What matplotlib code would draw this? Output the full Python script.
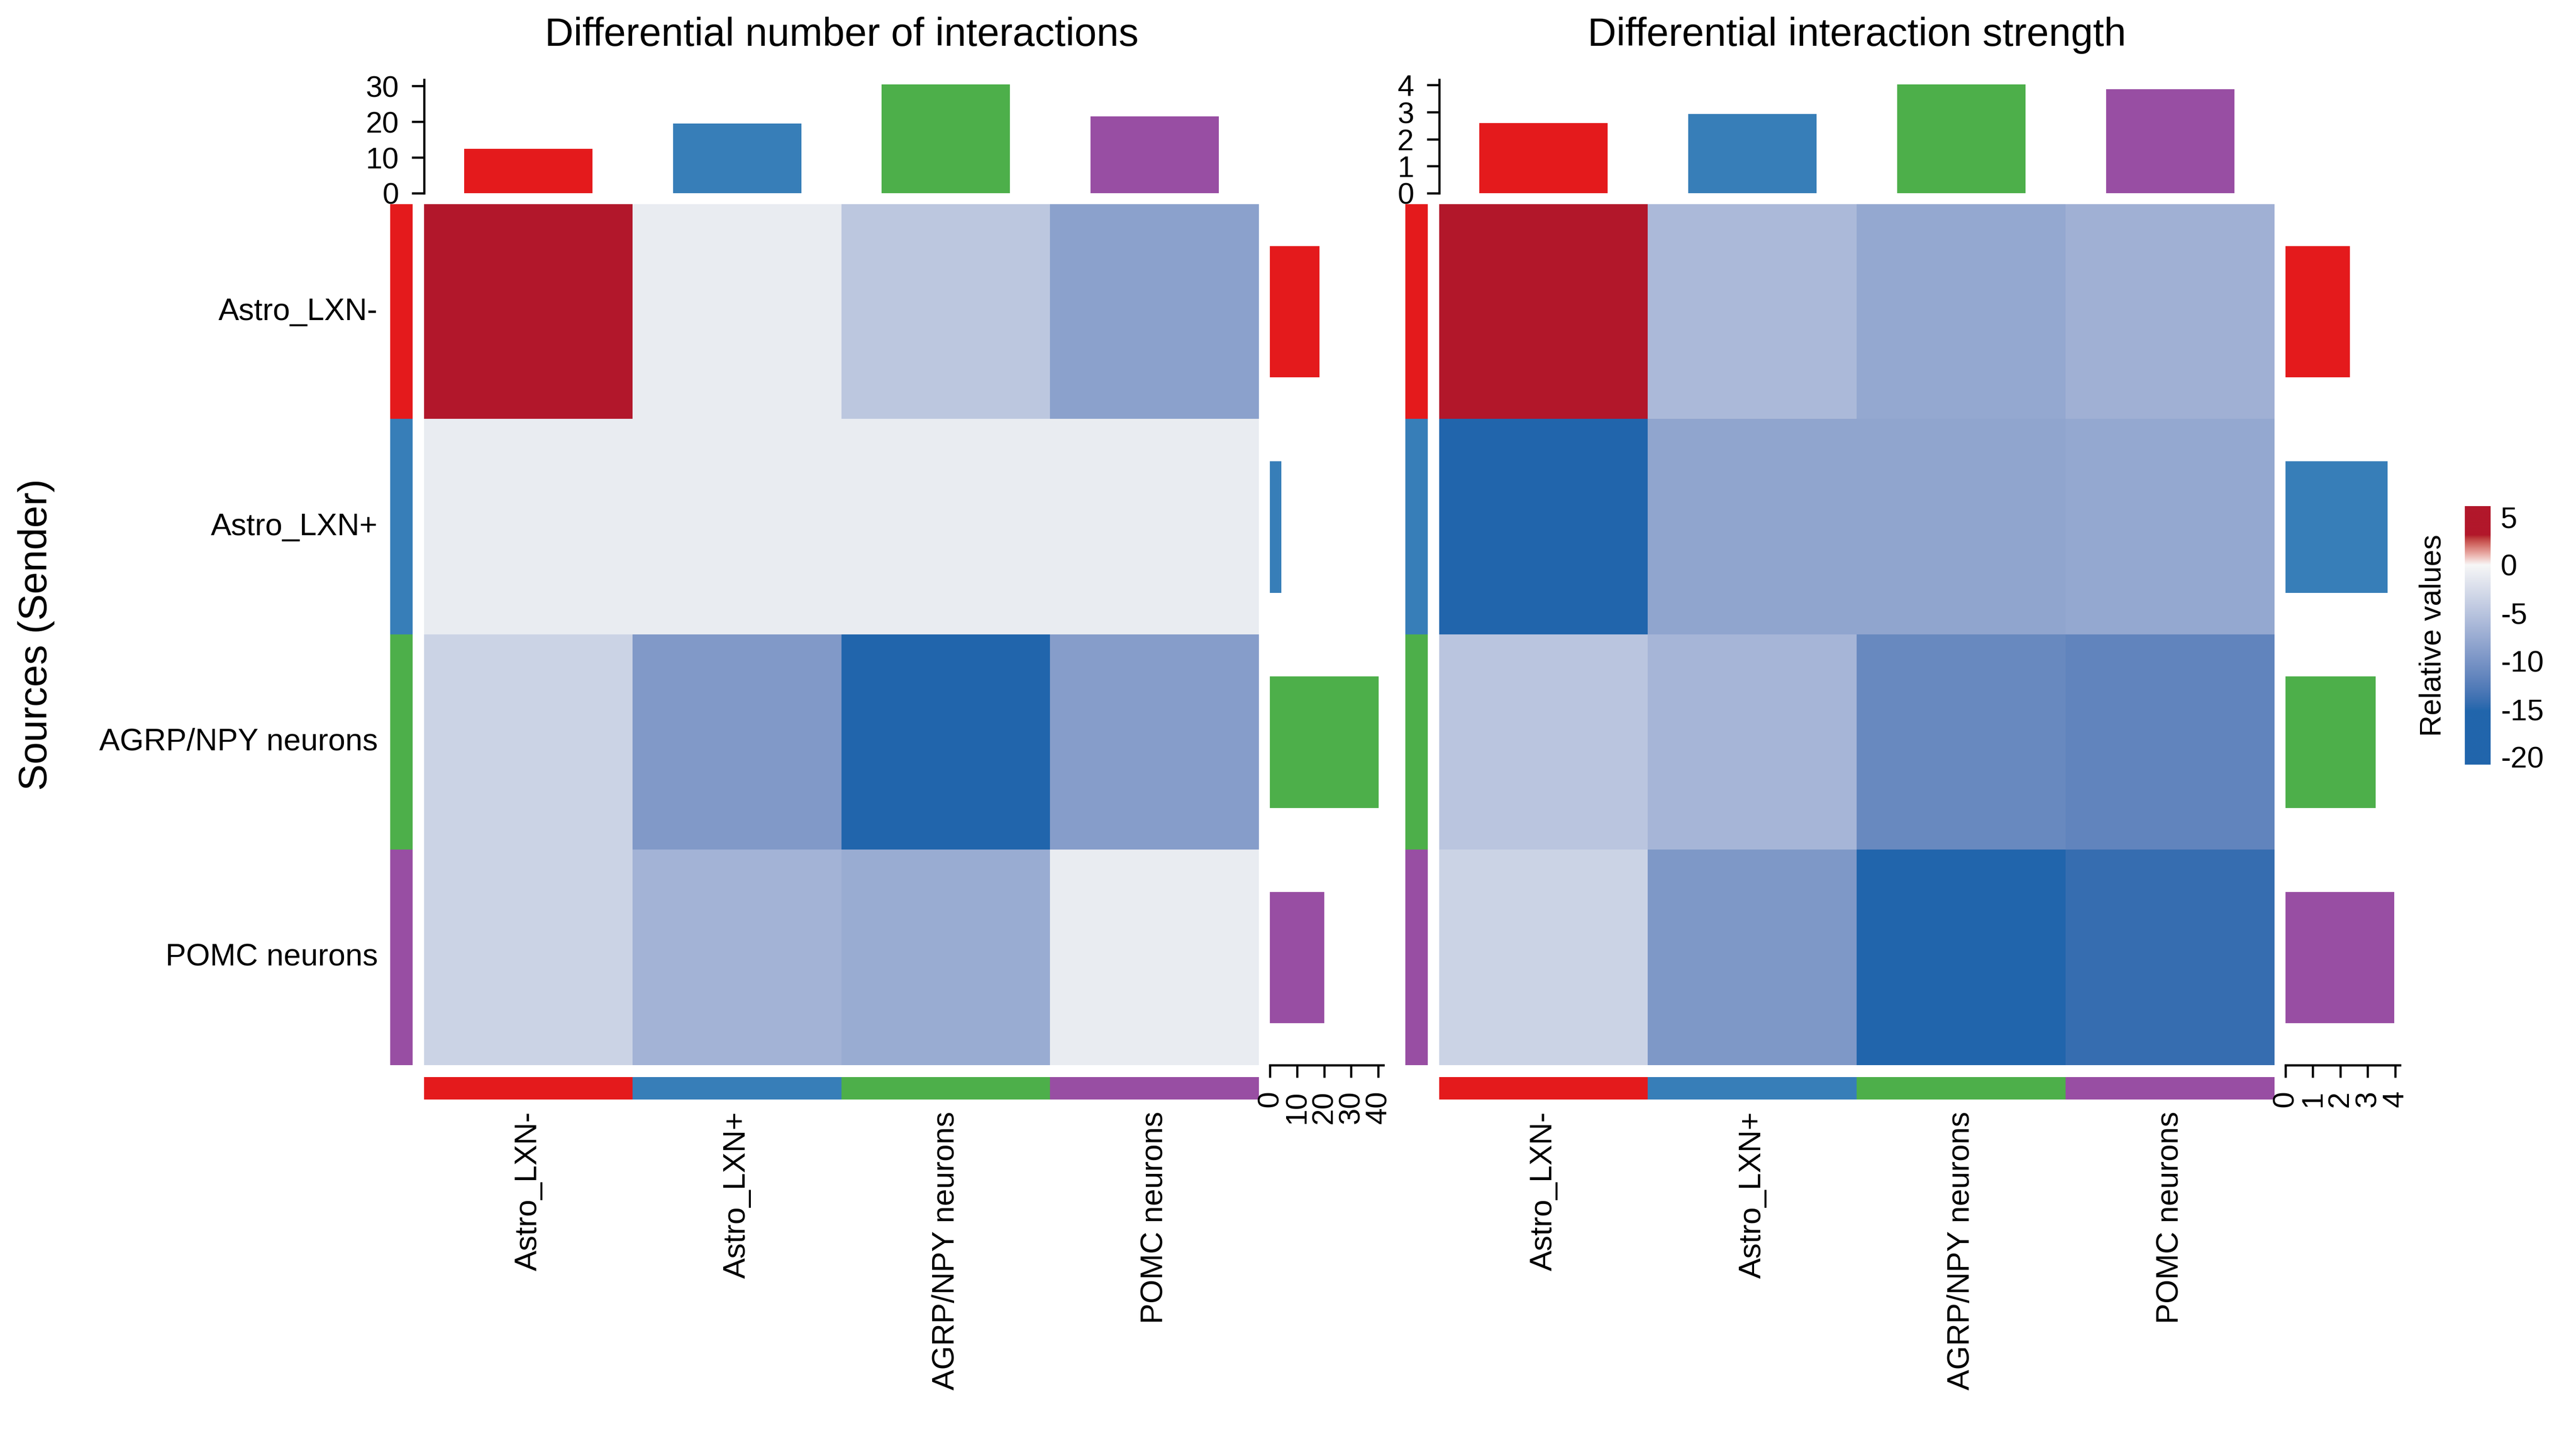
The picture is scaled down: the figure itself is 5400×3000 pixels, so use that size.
import numpy as np
import matplotlib
matplotlib.use("Agg")
import matplotlib.pyplot as plt
from matplotlib.colors import ListedColormap, Normalize, to_rgb

# ---- data ----
groups = ["Astro_LXN-", "Astro_LXN+", "AGRP/NPY neurons", "POMC neurons"]
group_colors = ["#E41A1C", "#377EB8", "#4DAF4A", "#984EA3"]

# rows = sources (sender), cols = targets (receiver)
count_diff = np.array([[6.1, -1.06, -4.7, -8.6],
                       [-1.06, -1.06, -1.06, -1.06],
                       [-3.5, -9.4, -20.8, -9.0],
                       [-3.5, -6.7, -7.5, -1.06]])
strength_diff = np.array([[0.45, -0.61, -0.79, -0.70],
                          [-1.70, -0.82, -0.82, -0.79],
                          [-0.49, -0.65, -1.12, -1.17],
                          [-0.35, -0.96, -1.75, -1.43]])
count_col_bars = [12.4, 19.5, 30.4, 21.5]
count_row_bars = [18.3, 4.3, 40.1, 20.1]
strength_col_bars = [2.59, 2.93, 4.02, 3.84]
strength_row_bars = [2.35, 3.72, 3.30, 3.97]
count_col_ticks = [0, 10, 20, 30]
count_row_ticks = [0, 10, 20, 30, 40]
strength_ticks = [0, 1, 2, 3, 4]
legend_ticks = [5, 0, -5, -10, -15, -20]

# ---- colour ramp (ComplexHeatmap style, interpolated in LAB) ----
M = np.array([[0.4124, 0.3576, 0.1805], [0.2126, 0.7152, 0.0722], [0.0193, 0.1192, 0.9505]])
WP = np.array([0.95047, 1.0, 1.08883])
def _lin(c): return np.where(c <= 0.04045, c / 12.92, ((c + 0.055) / 1.055) ** 2.4)
def _gam(c): return np.where(c <= 0.0031308, 12.92 * c, 1.055 * np.power(c, 1 / 2.4) - 0.055)
def rgb2lab(rgb):
    xyz = M @ _lin(np.asarray(rgb)) / WP
    f = np.where(xyz > 216 / 24389, np.cbrt(xyz), (24389 / 27 * xyz + 16) / 116)
    return np.array([116 * f[1] - 16, 500 * (f[0] - f[1]), 200 * (f[1] - f[2])])
def lab2rgb(lab):
    L, a, b = lab
    fy = (L + 16) / 116; f = np.array([fy + a / 500, fy, fy - b / 200])
    xyz = np.where(f ** 3 > 216 / 24389, f ** 3, (116 * f - 16) / (24389 / 27)) * WP
    return np.clip(_gam(np.clip(np.linalg.inv(M) @ xyz, 0, 1)), 0, 1)

VMIN, VMAX = -20.8, 6.1
stops = [(VMIN, "#2166AC"), (-15.2, "#2166AC"), (0, "#F7F7F7"), (3.1, "#B2182B"), (VMAX, "#B2182B")]
grid = np.linspace(VMIN, VMAX, 1024)
cols = []
for v in grid:
    for (v0, c0), (v1, c1) in zip(stops[:-1], stops[1:]):
        if v0 <= v <= v1:
            t = (v - v0) / (v1 - v0)
            cols.append(lab2rgb((1 - t) * rgb2lab(to_rgb(c0)) + t * rgb2lab(to_rgb(c1))))
            break
cmap = ListedColormap(cols)
norm_count = Normalize(VMIN, VMAX)
norm_strength = Normalize(VMIN * 0.1, VMAX * 0.1)

# ---- layout (pixel boxes on a 5400x3000 canvas) ----
plt.rcParams.update({"font.family": ["Liberation Sans", "DejaVu Sans"]})
W, H = 5400, 3000
fig = plt.figure(figsize=(18, 10), dpi=300)
fig.patch.set_facecolor("white")
def box(x0, y0, x1, y1): return [x0 / W, 1 - y1 / H, (x1 - x0) / W, (y1 - y0) / H]
def ftxt(x, y, s, size=15.5, **kw): fig.text(x / W, 1 - y / H, s, fontsize=size, **kw)

HM_T, HM_B = 428, 2233
FS, LW, TL, TP = 15, 1.1, 6.2, 6.5
strip_cmap = ListedColormap(group_colors)

def panel(x0, x1, mat, norm, col_bars, row_bars, title, col_ticks, row_ticks, bar_r_px):
    # heatmap
    ax = fig.add_axes(box(x0, HM_T, x1, HM_B))
    ax.imshow(mat, cmap=cmap, norm=norm, aspect="auto", interpolation="nearest")
    ax.axis("off")
    # row annotation strip
    axr = fig.add_axes(box(x0 - 71, HM_T, x0 - 24, HM_B))
    axr.imshow(np.arange(4)[:, None], cmap=strip_cmap, aspect="auto", interpolation="nearest")
    axr.axis("off")
    # column annotation strip
    axc = fig.add_axes(box(x0, 2258, x1, 2305))
    axc.imshow(np.arange(4)[None, :], cmap=strip_cmap, aspect="auto", interpolation="nearest")
    axc.axis("off")
    # top bars
    axt = fig.add_axes(box(x0, 167, x1, 405))
    axt.bar(np.arange(4), col_bars, width=0.615, color=group_colors)
    axt.set_xlim(-0.5, 3.5); axt.set_ylim(0, max(col_bars) * 1.045)
    axt.set_yticks(col_ticks)
    for sp in ["top", "right", "bottom"]: axt.spines[sp].set_visible(False)
    axt.spines["left"].set_linewidth(LW)
    axt.tick_params(axis="y", length=TL, width=LW, pad=TP, labelsize=FS)
    axt.tick_params(axis="x", bottom=False, labelbottom=False)
    axt.patch.set_alpha(0)
    # right bars
    axb = fig.add_axes(box(x1 + 23, HM_T, x1 + 23 + bar_r_px, HM_B))
    axb.barh(np.arange(4), row_bars, height=0.61, color=group_colors)
    axb.set_ylim(3.5, -0.5); axb.set_xlim(0, max(max(row_bars), row_ticks[-1]) * 1.045)
    axb.set_xticks(row_ticks)
    for sp in ["top", "right", "left"]: axb.spines[sp].set_visible(False)
    axb.spines["bottom"].set_linewidth(LW)
    axb.tick_params(axis="x", length=TL, width=LW, pad=TP, labelsize=FS, labelrotation=90)
    axb.tick_params(axis="y", left=False, labelleft=False)
    axb.patch.set_alpha(0)
    # labels
    cw = (x1 - x0) / 4
    for i, g in enumerate(groups):
        ftxt(x0 + cw * (i + 0.5), 2330, g, rotation=90, ha="center", va="top")
    ftxt((x0 + x1) / 2, 74, title, 20, ha="center", va="center")

panel(889, 2639, count_diff, norm_count, count_col_bars, count_row_bars,
      "Differential number of interactions", count_col_ticks, count_row_ticks, 238)
panel(3017, 4768, strength_diff, norm_strength, strength_col_bars, strength_row_bars,
      "Differential interaction strength", strength_ticks, strength_ticks, 240)

# row labels + y title
rh = (HM_B - HM_T) / 4
for i, g in enumerate(groups):
    ftxt(792, HM_T + rh * (i + 0.5), g, ha="right", va="center")
ftxt(76, (HM_T + HM_B) / 2, "Sources (Sender)", 20, rotation=90, ha="center", va="center")

# colour legend
axl = fig.add_axes(box(5167, 1061, 5221, 1603))
axl.imshow(grid[::-1, None], cmap=cmap, norm=norm_count, aspect="auto",
           extent=[0, 1, VMIN, VMAX], interpolation="bilinear")
axl.set_xticks([]); axl.yaxis.tick_right()
axl.set_yticks(legend_ticks); axl.set_yticklabels([str(t) for t in legend_ticks])
axl.tick_params(axis="y", length=0, pad=5, labelsize=FS)
for sp in axl.spines.values(): sp.set_visible(False)
ftxt(5100, 1332, "Relative values", FS, rotation=90, ha="center", va="center")

fig.savefig("out.png", facecolor="white")
